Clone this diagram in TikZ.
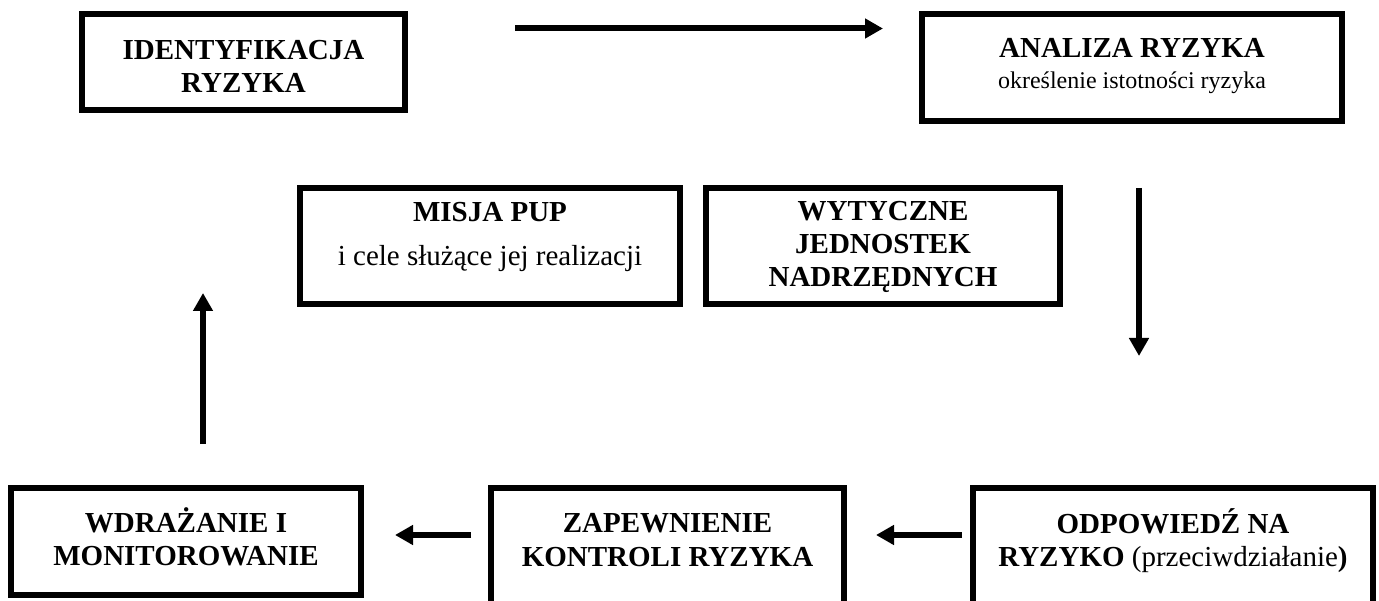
\documentclass[tikz,border=0pt]{standalone}
\usepackage{fontspec}
\setmainfont{Liberation Serif}
\usetikzlibrary{arrows.meta}
\begin{document}
\begin{tikzpicture}[x=1pt,y=-1pt,
  frame/.style={draw, line width=6pt, rectangle, inner sep=0pt, outer sep=0pt},
  openframe/.style={rectangle, inner sep=0pt, outer sep=0pt},
  bt/.style={font=\fontsize{29}{33}\selectfont\bfseries, anchor=base, inner sep=0pt},
  rt/.style={font=\fontsize{29}{33}\selectfont, anchor=base, inner sep=0pt},
  st/.style={font=\fontsize{24}{28}\selectfont, anchor=base, inner sep=0pt},
  arr/.style={line width=6pt, -{Triangle[length=18pt,width=19pt]}}]
\fill[white] (0,0) rectangle (1379,601);
\useasboundingbox (0,0) rectangle (1379,601);

% boxes
\node[frame, minimum width=323pt, minimum height=96pt] (A) at (243.5,62) {};
\node[frame, minimum width=420pt, minimum height=107pt] (B) at (1132,67.5) {};
\node[frame, minimum width=380pt, minimum height=116pt] (C) at (490,246) {};
\node[frame, minimum width=354pt, minimum height=116pt] (D) at (883,246) {};
\node[frame, minimum width=350pt, minimum height=107pt] (E) at (186,541.5) {};
\node[openframe, minimum width=353pt, minimum height=113pt] (F) at (667.5,544.5) {};
\node[openframe, minimum width=400pt, minimum height=113pt] (G) at (1173,544.5) {};
\draw[line width=6pt] (F.south west) -- (F.north west) -- (F.north east) -- (F.south east);
\draw[line width=6pt] (G.south west) -- (G.north west) -- (G.north east) -- (G.south east);

% texts
\node[bt] (A1) at (243.5,60) {IDENTYFIKACJA};
\node[bt] (A2) at (243.5,93) {RYZYKA};
\node[bt] (B1) at (1132,58) {ANALIZA RYZYKA};
\node[st] (B2) at (1132,89) {określenie istotności ryzyka};
\node[bt] (C1) at (490,222) {MISJA PUP};
\node[rt] (C2) at (490,266) {i cele służące jej realizacji};
\node[bt] (D1) at (883,221) {WYTYCZNE};
\node[bt] (D2) at (883,254) {JEDNOSTEK};
\node[bt] (D3) at (883,287) {NADRZĘDNYCH};
\node[bt] (E1) at (186,532) {WDRAŻANIE I};
\node[bt] (E2) at (186,565) {MONITOROWANIE};
\node[bt] (F1) at (667.5,532) {ZAPEWNIENIE};
\node[bt] (F2) at (667.5,566) {KONTROLI RYZYKA};
\node[bt] (G1) at (1173,533) {ODPOWIEDŹ NA};
\node[rt] (G2) at (1173,566) {\textbf{RYZYKO} (przeciwdziałanie\textbf{)}};

% arrows
\coordinate (t1) at (515,28.5);  \coordinate (t2) at (883,28.5);
\coordinate (d1) at (1139,188);  \coordinate (d2) at (1139,356);
\coordinate (u1) at (203,444);   \coordinate (u2) at (203,293);
\coordinate (l1) at (471,535);   \coordinate (l2) at (395,535);
\coordinate (m1) at (962,535);   \coordinate (m2) at (876,535);
\draw[arr] (t1) -- (t2);
\draw[arr] (d1) -- (d2);
\draw[arr] (u1) -- (u2);
\draw[arr] (l1) -- (l2);
\draw[arr] (m1) -- (m2);
\end{tikzpicture}
\end{document}
